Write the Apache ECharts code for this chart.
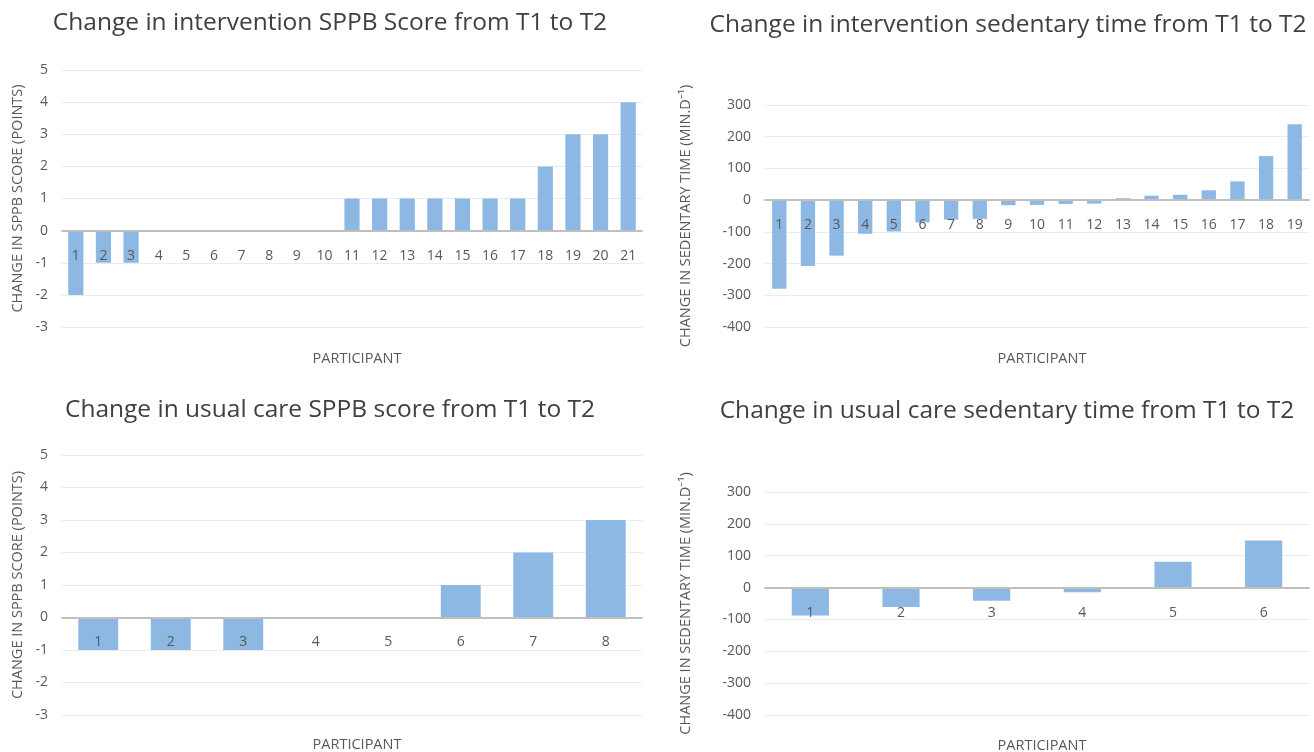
<!DOCTYPE html>
<html>
<head>
<meta charset="utf-8">
<script src="https://cdn.jsdelivr.net/npm/echarts@6/dist/echarts.min.js"></script>
<style>html,body{margin:0;padding:0;background:#fff}#c{width:1314px;height:752px}</style>
</head>
<body>
<div id="c"></div>
<script>
const sppbIntCats = ['1','2','3','4','5','6','7','8','9','10','11','12','13','14','15','16','17','18','19','20','21'];
const sppbIntVals = [-2,-1,-1,0,0,0,0,0,0,0,1,1,1,1,1,1,1,2,3,3,4];
const sedIntCats = ['1','2','3','4','5','6','7','8','9','10','11','12','13','14','15','16','17','18','19'];
const sedIntVals = [-279,-208,-175,-106,-99,-70,-61,-59,-16,-15,-12,-11,6,14,17,31,59,139,239];
const sppbUcCats = ['1','2','3','4','5','6','7','8'];
const sppbUcVals = [-1,-1,-1,0,0,1,2,3];
const sedUcCats = ['1','2','3','4','5','6'];
const sedUcVals = [-88,-61,-41,-15,81,148];

const titles = [
  'Change in intervention SPPB Score from T1 to T2',
  'Change in intervention sedentary time from T1 to T2',
  'Change in usual care SPPB score from T1 to T2',
  'Change in usual care sedentary time from T1 to T2'
];
const xName = 'PARTICIPANT';
const yNameSppb = 'CHANGE IN SPPB SCORE (POINTS)';
const yNameSed = 'CHANGE IN SEDENTARY TIME (MIN.D\u207B\u00B9)';

const FONT = '"Open Sans", sans-serif';
const TXT = '#595959';
const BAR = '#8db8e3';

const grids = [
  {left: 62, top: 70, width: 580, height: 257},
  {left: 765, top: 105, width: 544, height: 222},
  {left: 62, top: 455, width: 580, height: 260},
  {left: 765, top: 492, width: 544, height: 223}
];
const cats = [sppbIntCats, sedIntCats, sppbUcCats, sedUcCats];
const vals = [sppbIntVals, sedIntVals, sppbUcVals, sedUcVals];
const yCfg = [
  {min: -3, max: 5, interval: 1, name: yNameSppb, gap: 37},
  {min: -400, max: 300, interval: 100, name: yNameSed, gap: 72},
  {min: -3, max: 5, interval: 1, name: yNameSppb, gap: 37},
  {min: -400, max: 300, interval: 100, name: yNameSed, gap: 72}
];
const gaps = ['45%', '50%', '45%', '59%'];

const titleCfg = [
  {x: 325, y: 6}, {x: 1003, y: 8}, {x: 325, y: 393}, {x: 1002, y: 394}
];
const xNameCfg = [
  {x: 352, y: 346}, {x: 1037, y: 346}, {x: 352, y: 732}, {x: 1037, y: 733}
];

const title = [];
titles.forEach((t, i) => {
  title.push({text: t, left: titleCfg[i].x, top: titleCfg[i].y, textAlign: 'center',
    textStyle: {fontFamily: FONT, fontSize: 24.5, fontWeight: 'normal', color: '#404040'}});
});
xNameCfg.forEach(p => {
  title.push({text: xName, left: p.x, top: p.y, textAlign: 'center',
    textStyle: {fontFamily: FONT, fontSize: 14.5, fontWeight: 'normal', color: TXT}});
});

const option = {
  animation: false,
  backgroundColor: '#fff',
  title: title,
  grid: grids.map(g => Object.assign({containLabel: false}, g)),
  xAxis: cats.map((c, i) => ({
    type: 'category', gridIndex: i, data: c, position: 'bottom',
    // move the axis (line + labels) to the zero value of the y scale
    offset: -((0 - yCfg[i].min) / (yCfg[i].max - yCfg[i].min)) * grids[i].height,
    axisLine: {onZero: false, lineStyle: {color: '#bfbfbf', width: 2}},
    axisTick: {show: false},
    axisLabel: {color: TXT, fontFamily: FONT, fontSize: 14, margin: 18, interval: 0},
    splitLine: {show: false},
    z: 5
  })),
  yAxis: yCfg.map((y, i) => ({
    type: 'value', gridIndex: i, min: y.min, max: y.max, interval: y.interval,
    name: y.name, nameLocation: 'middle', nameGap: y.gap, nameRotate: 90,
    nameTextStyle: {color: TXT, fontFamily: FONT, fontSize: 14.5},
    axisLine: {show: false}, axisTick: {show: false},
    axisLabel: {color: TXT, fontFamily: FONT, fontSize: 14, margin: 14},
    splitLine: {lineStyle: {color: '#ececec', width: 1}}
  })),
  series: vals.map((v, i) => ({
    type: 'bar', xAxisIndex: i, yAxisIndex: i, data: v,
    barCategoryGap: gaps[i],
    itemStyle: {color: BAR}
  }))
};
echarts.init(document.getElementById('c'), null, {renderer: 'canvas'}).setOption(option);
</script>
</body>
</html>
